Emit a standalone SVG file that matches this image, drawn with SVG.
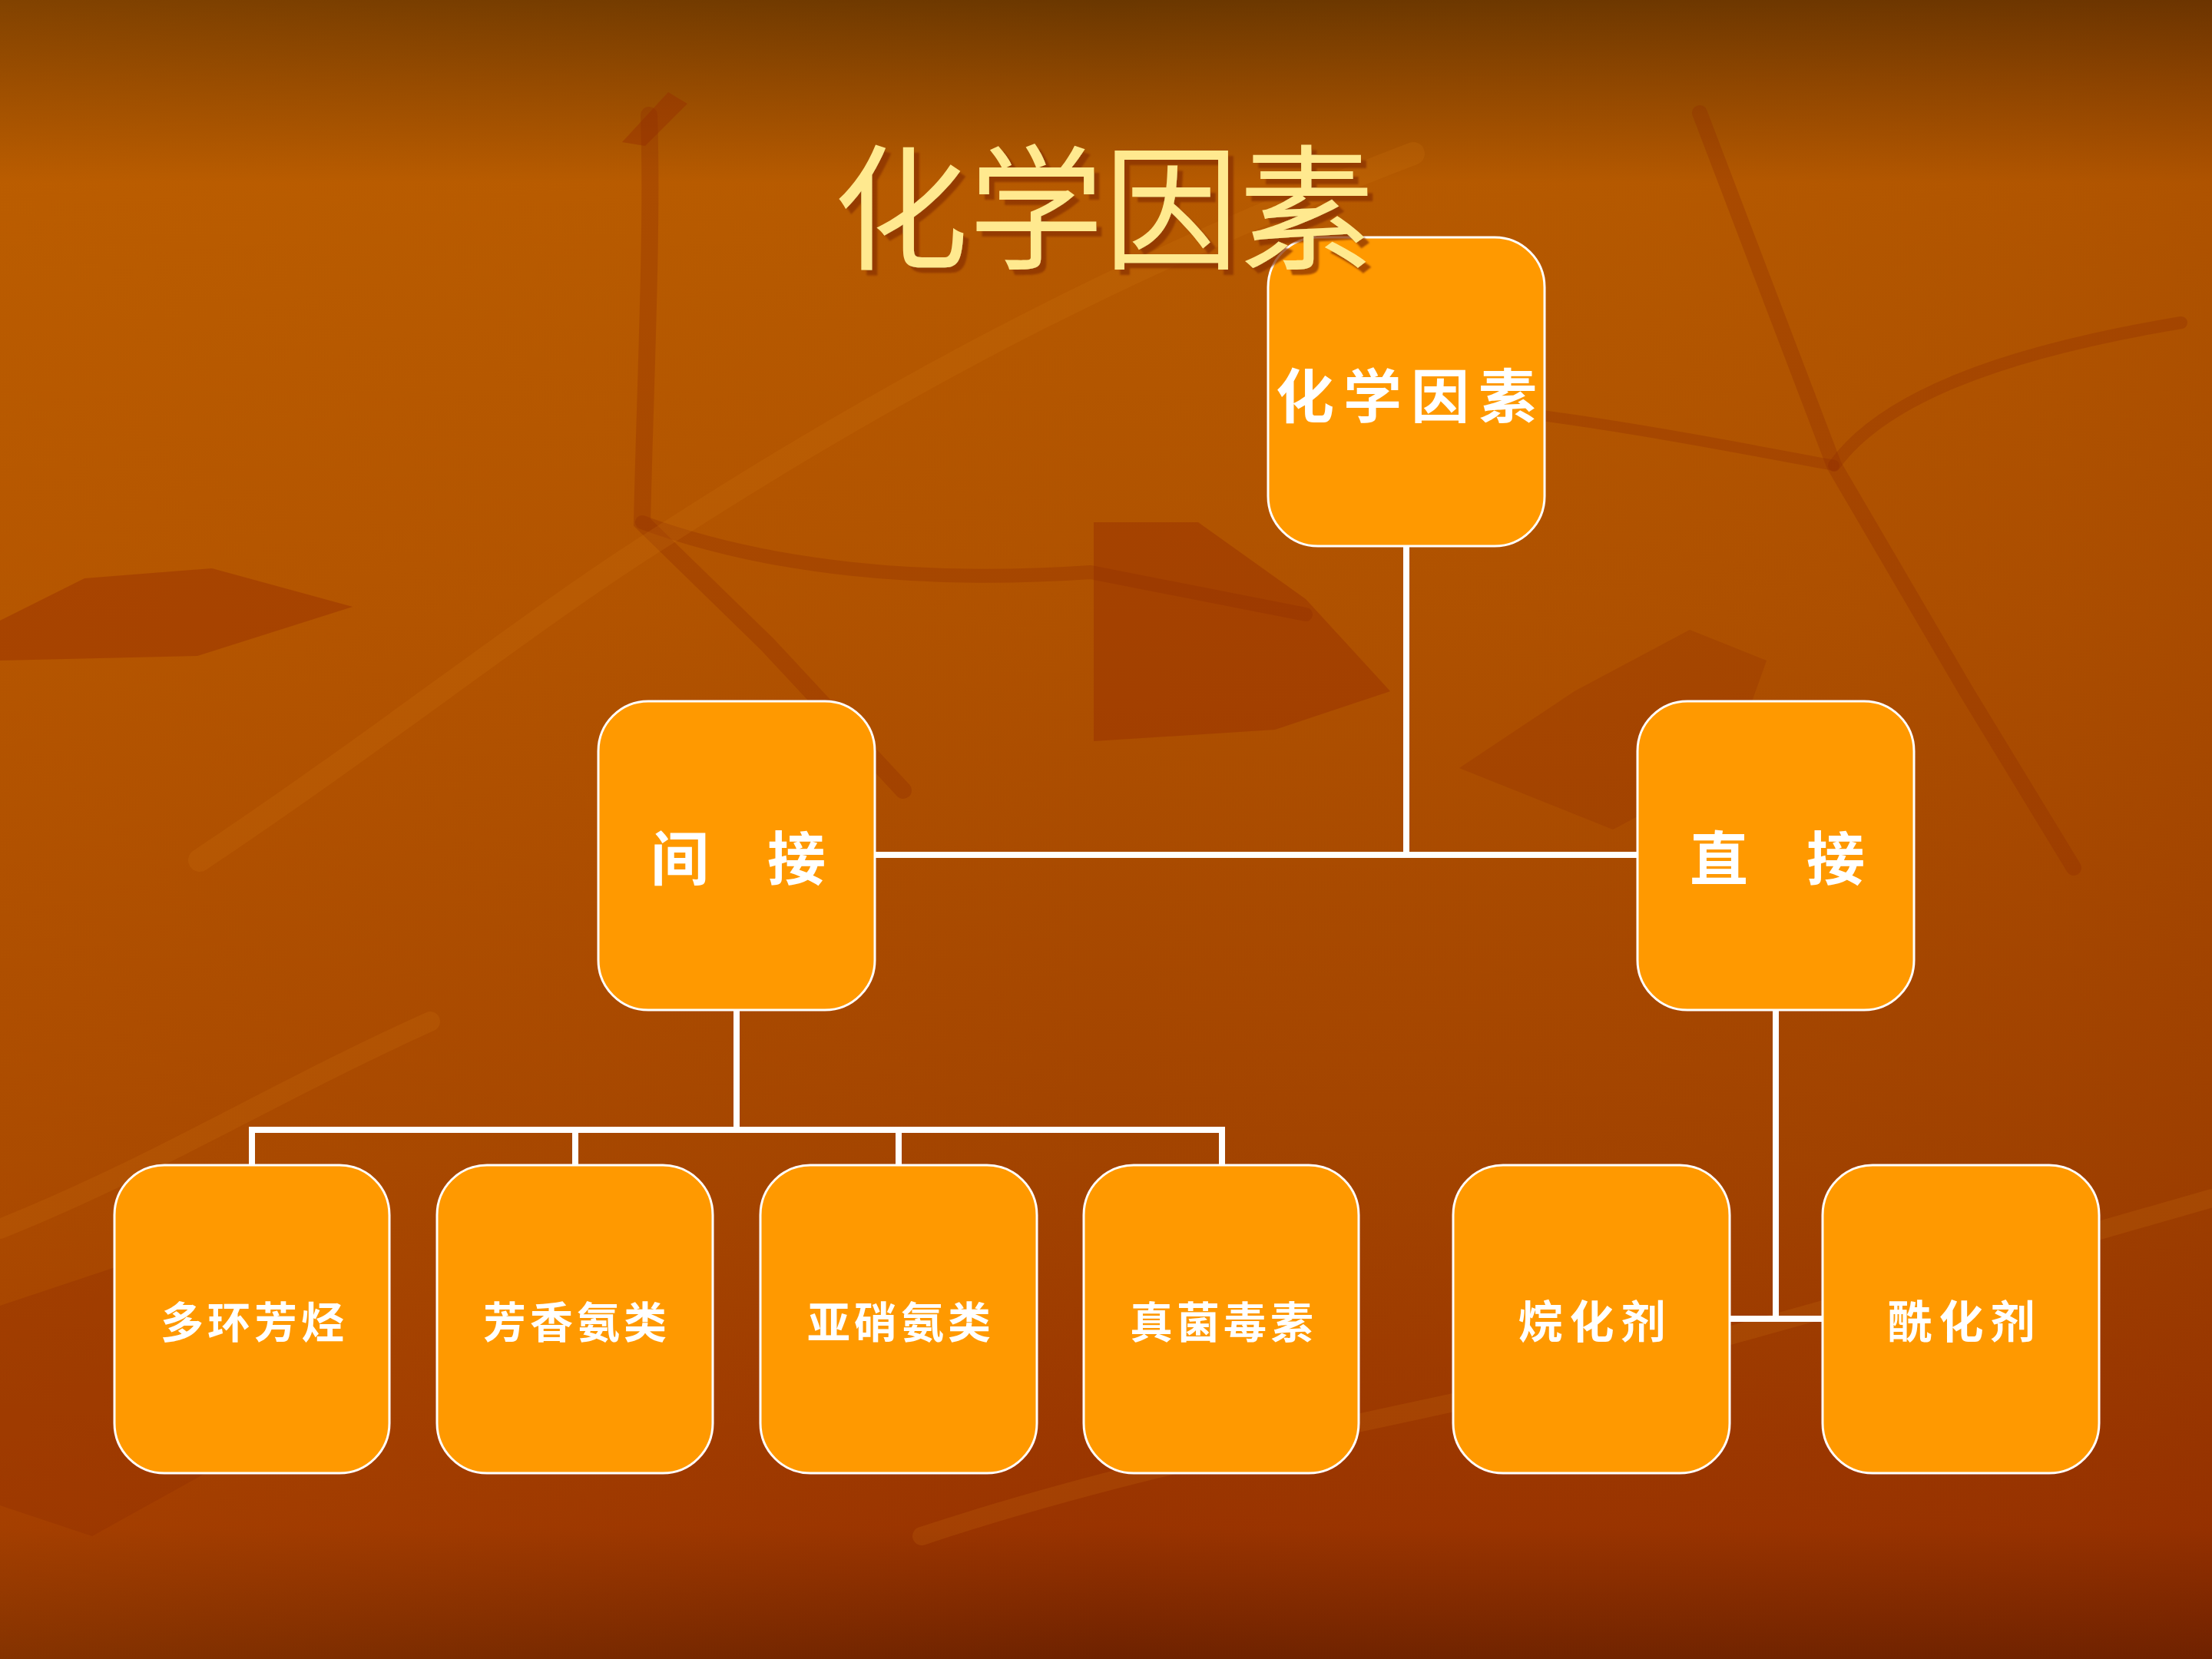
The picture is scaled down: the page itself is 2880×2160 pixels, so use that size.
<svg xmlns="http://www.w3.org/2000/svg" width="2880" height="2160" viewBox="0 0 2880 2160">
<defs>
<linearGradient id="bg" x1="0" y1="0" x2="0" y2="1">
<stop offset="0" stop-color="#6A3700"/>
<stop offset="0.05" stop-color="#8E4700"/>
<stop offset="0.11" stop-color="#B65A00"/>
<stop offset="0.35" stop-color="#B05200"/>
<stop offset="0.7" stop-color="#A24300"/>
<stop offset="0.92" stop-color="#993300"/>
<stop offset="1" stop-color="#6E2200"/>
</linearGradient>
<linearGradient id="bgh" x1="0" y1="0" x2="1" y2="0">
<stop offset="0" stop-color="#C86400" stop-opacity="0.25"/>
<stop offset="0.5" stop-color="#C86400" stop-opacity="0"/>
<stop offset="1" stop-color="#7A2000" stop-opacity="0.12"/>
</linearGradient>
<filter id="shadow" x="-10%" y="-10%" width="130%" height="130%">
<feDropShadow dx="7" dy="7" stdDeviation="1" flood-color="#8A3300" flood-opacity="0.75"/>
</filter>
<style>
.box{fill:#FF9900;stroke:#FFFFFF;stroke-width:3}
.lbl{font-family:"Noto Sans CJK SC","Noto Sans CJK TC",sans-serif;font-weight:700;fill:#FFFFFF;text-anchor:middle;dominant-baseline:central}
.big{font-size:76px;letter-spacing:12px}
.mid{font-size:76px}
.sm{font-size:56px;letter-spacing:5px}
.sm3{font-size:58px;letter-spacing:9px}
.con{stroke:#FFFFFF;stroke-width:8;fill:none;stroke-linecap:square}
.dark{fill:#962E00;opacity:0.45}
.stem{stroke:#8E2C00;fill:none;opacity:0.3;stroke-linecap:round}
.light{stroke:#D07A10;fill:none;opacity:0.18;stroke-linecap:round}
.title{font-family:"Liberation Serif","Noto Sans CJK SC",serif;font-size:176px;text-anchor:middle;dominant-baseline:central;fill:#FFE98F}
</style>
</defs>
<rect x="0" y="0" width="2880" height="2160" fill="url(#bg)"/>
<rect x="0" y="0" width="2880" height="2160" fill="url(#bgh)"/>
<g id="decor">
<polygon class="dark" points="0,808 110,753 276,740 459,790 257,854 0,860"/>
<polygon class="dark" points="1424,680 1560,680 1700,780 1810,900 1660,950 1424,965"/>
<polygon class="dark" points="810,185 870,120 895,135 840,190"/>
<path class="stem" stroke-width="22" d="M845,150 C850,300 840,500 836,680 L1000,840 L1176,1029"/>
<path class="stem" stroke-width="18" d="M836,680 C1000,740 1200,760 1420,745 L1700,800"/>
<path class="stem" stroke-width="20" d="M2213,147 L2388,606 L2560,900 L2700,1130"/>
<path class="stem" stroke-width="16" d="M2388,606 C2450,520 2600,460 2840,420"/>
<path class="stem" stroke-width="14" d="M2000,540 C2150,560 2300,590 2388,606"/>
<path class="light" stroke-width="30" d="M260,1120 C500,960 700,800 860,700 C1200,480 1500,330 1840,200"/>
<path class="light" stroke-width="26" d="M0,1600 C200,1520 360,1420 560,1330"/>
<path class="light" stroke-width="24" d="M1200,2000 C1500,1900 1800,1850 2100,1780 C2400,1700 2600,1640 2880,1560"/>
<polygon fill="#8E2C00" opacity="0.3" points="0,1700 150,1650 300,1640 420,1720 300,1900 120,2000 0,1960"/>
<polygon fill="#8E2C00" opacity="0.25" points="1900,1000 2050,900 2200,820 2300,860 2250,1000 2100,1080"/>
</g>
<g id="connectors">
<polyline class="con" points="1831,711 1831,1113"/>
<polyline class="con" points="1139,1113 2132,1113"/>
<polyline class="con" points="959,1315 959,1471"/>
<polyline class="con" points="328,1517 328,1471 1591,1471 1591,1517"/>
<polyline class="con" points="749,1471 749,1517"/>
<polyline class="con" points="1170,1471 1170,1517"/>
<polyline class="con" points="2312,1315 2312,1717"/>
<polyline class="con" points="2252,1717 2373,1717"/>
</g>
<g id="n-root"><rect class="box" x="1651" y="309" width="360" height="402" rx="65"/><text class="lbl big" x="1837" y="511">化学因素</text></g>
<g id="n-indirect"><rect class="box" x="779" y="913" width="360" height="402" rx="65"/><text class="lbl mid" x="961" y="1113">间　接</text></g>
<g id="n-direct"><rect class="box" x="2132" y="913" width="360" height="402" rx="65"/><text class="lbl mid" x="2314" y="1113">直　接</text></g>
<g id="n-pah"><rect class="box" x="149" y="1517" width="358" height="401" rx="65"/><text class="lbl sm" x="331" y="1717">多环芳烃</text></g>
<g id="n-amine"><rect class="box" x="569" y="1517" width="359" height="401" rx="65"/><text class="lbl sm" x="751" y="1717">芳香氨类</text></g>
<g id="n-nitros"><rect class="box" x="990" y="1517" width="360" height="401" rx="65"/><text class="lbl sm" x="1173" y="1717">亚硝氨类</text></g>
<g id="n-myco"><rect class="box" x="1411" y="1517" width="358" height="401" rx="65"/><text class="lbl sm" x="1593" y="1717">真菌毒素</text></g>
<g id="n-alkyl"><rect class="box" x="1892" y="1517" width="360" height="401" rx="65"/><text class="lbl sm3" x="2077" y="1717">烷化剂</text></g>
<g id="n-acyl"><rect class="box" x="2373" y="1517" width="360" height="401" rx="65"/><text class="lbl sm3" x="2558" y="1717">酰化剂</text></g>
<g id="title">
<text class="title" x="1437" y="277" filter="url(#shadow)">化学因素</text>
</g>
</svg>
